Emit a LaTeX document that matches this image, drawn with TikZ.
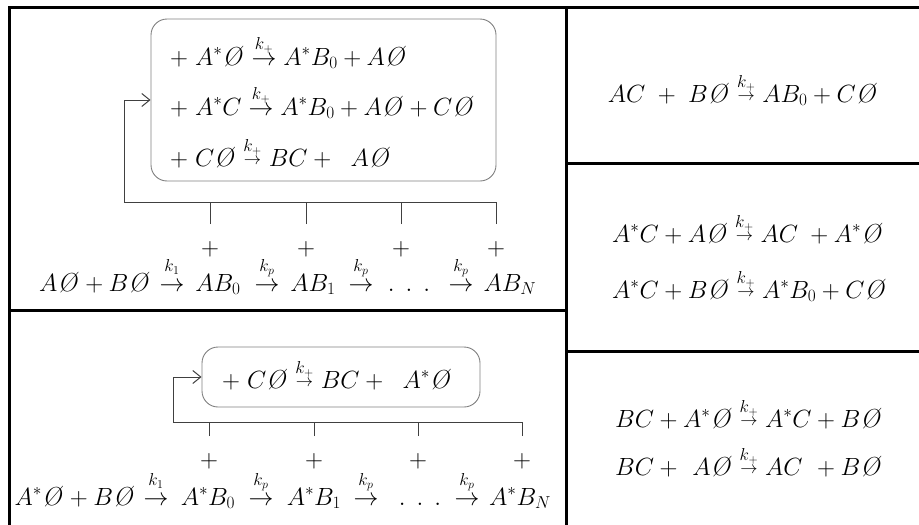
\documentclass[tikz,border=0pt]{standalone}
\usepackage{amsmath,amssymb}
\usetikzlibrary{arrows.meta}

% slashed empty site, short and long reaction arrows with rate above
\newcommand{\eset}{\mathord{\text{\itshape\O}}\mkern2mu}
\newcommand{\sarr}{\mathrel{\raisebox{1.5pt}{$\scriptstyle\rightarrow$}}}
\newcommand{\rxn}[1]{\mathrel{\overset{\raisebox{1pt}{$\scriptstyle #1$}}{\sarr}}}
\newcommand{\lrxn}[1]{\mathrel{\overset{\raisebox{1pt}{$\scriptstyle #1$}}{\rightarrow}}}
\newcommand{\karr}[1]{\mathrel{\overset{\raisebox{5pt}{$\scriptstyle #1$}}{\rightarrow}}}

\begin{document}
\begin{tikzpicture}[x=1pt, y=-1pt,
    eq/.style={font=\fontsize{26}{31}\selectfont, inner sep=0pt},
    tabline/.style={line width=3pt},
    rxnbox/.style={draw=black!50, line width=0.9pt, rounded corners=16pt},
    wire/.style={draw=black!75, line width=1pt},
    tip/.style={-{Straight Barb[length=8pt, width=13pt, line width=1pt]}}]
  \useasboundingbox (0,0) rectangle (919,525);

  % Table rules
  \draw[tabline] (9,525) -- (9,7) -- (919,7);
  \draw[tabline] (566,7) -- (566,525);
  \draw[tabline] (9,310) -- (566,310);
  \draw[tabline] (566,163) -- (919,163);
  \draw[tabline] (566,351) -- (919,351);

  % Top left: loop box
  \node[rxnbox, minimum width=345pt, minimum height=162pt] (loopA) at (323.5,100) {};
  \node[eq, anchor=base west] (lA1) at (170,65) {$+\;A^*\eset \lrxn{k_+} A^*B_0 + A\eset$};
  \node[eq, anchor=base west] (lA2) at (170,115) {$+\;A^*C \lrxn{k_+} A^*B_0 + A\eset + C\eset$};
  \node[eq, anchor=base west] (lA3) at (170,166) {$+\;C\eset \rxn{k_+} BC +\;\; A\eset$};

  % Top left: chain
  \node[eq, anchor=base] (sA) at (95,291) {$A\eset + B\eset$};
  \node[eq, anchor=base] (kA1) at (172,291) {$\karr{k_1}$};
  \node[eq, anchor=base] (bA0) at (218,291) {$AB_0$};
  \node[eq, anchor=base] (kA2) at (267,291) {$\karr{k_p}$};
  \node[eq, anchor=base] (bA1) at (313,291) {$AB_1$};
  \node[eq, anchor=base] (kA3) at (361,291) {$\karr{k_p}$};
  \node[eq, anchor=base] (dA) at (409,291) {$.\hspace{11pt}.\hspace{11pt}.$};
  \node[eq, anchor=base] (kA4) at (461,291) {$\karr{k_p}$};
  \node[eq, anchor=base] (bAN) at (510,291) {$AB_N$};

  \foreach \x [count=\i] in {210,306,401,496} {
    \node[eq] (pA\i) at (\x,249) {$+$};
    \coordinate (tA\i) at (\x,224);
  }
  \coordinate (busA) at (124,202);
  \draw[wire, tip] (tA4) |- (busA) |- (loopA.west);
  \foreach \i in {1,2,3}
    \draw[wire] (tA\i) -- (tA\i |- busA);

  % Bottom left: loop box
  \node[rxnbox, minimum width=278pt, minimum height=60pt] (loopB) at (341,377) {};
  \node[eq, anchor=base west] (lB1) at (222,388) {$+\;C\eset \rxn{k_+} BC +\;\; A^*\eset$};

  % Bottom left: chain
  \node[eq, anchor=base] (sB) at (75,505) {$A^*\eset + B\eset$};
  \node[eq, anchor=base] (kB1) at (156,505) {$\karr{k_1}$};
  \node[eq, anchor=base] (bB0) at (208,505) {$A^*B_0$};
  \node[eq, anchor=base] (kB2) at (261,505) {$\karr{k_p}$};
  \node[eq, anchor=base] (bB1) at (314,505) {$A^*B_1$};
  \node[eq, anchor=base] (kB3) at (366,505) {$\karr{k_p}$};
  \node[eq, anchor=base] (dB) at (420,505) {$.\hspace{11pt}.\hspace{11pt}.$};
  \node[eq, anchor=base] (kB4) at (467,505) {$\karr{k_p}$};
  \node[eq, anchor=base] (bBN) at (520,505) {$A^*B_N$};

  \foreach \x [count=\i] in {209,314,418,522} {
    \node[eq] (pB\i) at (\x,461) {$+$};
    \coordinate (tB\i) at (\x,436);
  }
  \coordinate (busB) at (173,422);
  \draw[wire, tip] (tB4) |- (busB) |- (loopB.west);
  \foreach \i in {1,2,3}
    \draw[wire] (tB\i) -- (tB\i |- busB);

  % Right column
  \node[eq, anchor=base] (r1) at (743,102) {$AC\;+\;B\eset \rxn{k_+} AB_0 + C\eset$};
  \node[eq, anchor=base west] (r2) at (612,242) {$A^*C + A\eset \rxn{k_+} AC\; + A^*\eset$};
  \node[eq, anchor=base west] (r3) at (612,298) {$A^*C + B\eset \rxn{k_+} A^*B_0 + C\eset$};
  \node[eq, anchor=base west] (r4) at (615,427) {$BC + A^*\eset \rxn{k_+} A^*C + B\eset$};
  \node[eq, anchor=base west] (r5) at (615,475) {$BC + \hphantom{{}^*}A\eset \rxn{k_+} AC\hphantom{{}^*} + B\eset$};
\end{tikzpicture}
\end{document}
